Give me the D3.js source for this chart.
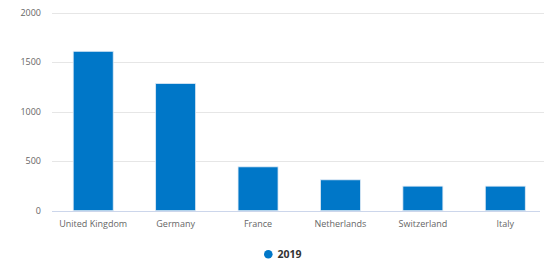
<!DOCTYPE html>
<html>
<head>
<meta charset="utf-8">
<script src="https://cdn.jsdelivr.net/npm/d3@7"></script>
<style>
  html, body { margin: 0; padding: 0; background: #fff; }
  svg { display: block; font-family: "Open Sans", sans-serif; }
</style>
</head>
<body>
<svg id="chart" width="544" height="271"></svg>
<script>
// data
const countries = ['United Kingdom', 'Germany', 'France', 'Netherlands', 'Switzerland', 'Italy'];
const values2019 = [1610, 1285, 443, 312, 248, 248];
const yTicks = [0, 500, 1000, 1500, 2000];
const seriesName = '2019';

const width = 544;
const height = 271;
const margin = { top: 12.7, right: -2.5, bottom: 60.3, left: 52 };

const svg = d3.select('#chart');

const x = d3.scaleBand()
  .domain(countries)
  .range([margin.left, width - margin.right])
  .paddingInner(0)
  .paddingOuter(0);

const y = d3.scaleLinear()
  .domain([0, 2000])
  .range([height - margin.bottom, margin.top]);

// grid lines
svg.append('g')
  .selectAll('line')
  .data(yTicks.filter(d => d > 0))
  .join('line')
  .attr('x1', margin.left)
  .attr('x2', width)
  .attr('y1', d => Math.round(y(d)) + 0.5)
  .attr('y2', d => Math.round(y(d)) + 0.5)
  .attr('stroke', '#e6e6e6')
  .attr('stroke-width', 1);

// y labels
svg.append('g')
  .selectAll('text')
  .data(yTicks)
  .join('text')
  .attr('x', 41)
  .attr('y', d => y(d) + 3)
  .attr('text-anchor', 'end')
  .style('font-size', '9px')
  .style('fill', '#666')
  .text(d => d);

// bars
const barW = 40;
svg.append('g')
  .selectAll('rect')
  .data(countries)
  .join('rect')
  .attr('x', (d, i) => x(d) + x.bandwidth() / 2 - barW / 2)
  .attr('y', (d, i) => y(values2019[i]))
  .attr('width', barW)
  .attr('height', (d, i) => y(0) - y(values2019[i]))
  .attr('fill', '#0077c8')
  .attr('stroke', '#dfeaf5')
  .attr('stroke-width', 0.8);

// x axis line
svg.append('line')
  .attr('x1', margin.left)
  .attr('x2', 540)
  .attr('y1', Math.round(y(0)) + 0.5)
  .attr('y2', Math.round(y(0)) + 0.5)
  .attr('stroke', '#ccd6eb');

// x labels
svg.append('g')
  .selectAll('text')
  .data(countries)
  .join('text')
  .attr('x', d => x(d) + x.bandwidth() / 2)
  .attr('y', 227)
  .attr('text-anchor', 'middle')
  .style('font-size', '9px')
  .style('fill', '#666')
  .text(d => d);

// legend
const legend = svg.append('g');
legend.append('circle')
  .attr('cx', 268.3)
  .attr('cy', 254.3)
  .attr('r', 4.3)
  .attr('fill', '#0077c8');
legend.append('text')
  .attr('x', 277.5)
  .attr('y', 258)
  .style('font-size', '10.5px')
  .style('font-weight', 'bold')
  .style('fill', '#333')
  .text(seriesName);
</script>
</body>
</html>
